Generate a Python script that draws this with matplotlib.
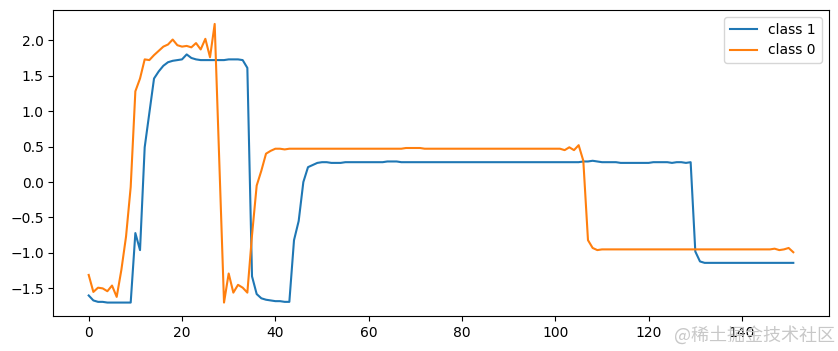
import matplotlib.pyplot as plt

# values, one per time step (0..151)
class_1 = [
    -1.60, -1.67, -1.69, -1.69, -1.70, -1.70, -1.70, -1.70, -1.70, -1.70,
    -0.72, -0.96, 0.49, 0.98, 1.46, 1.56, 1.64, 1.69, 1.71, 1.72,
    1.73, 1.80, 1.75, 1.73, 1.72, 1.72, 1.72, 1.72, 1.72, 1.72,
    1.73, 1.73, 1.73, 1.72, 1.61, -1.33, -1.58, -1.64, -1.66, -1.67,
    -1.68, -1.68, -1.69, -1.69, -0.82, -0.55, 0.00, 0.21, 0.24, 0.27,
    0.28, 0.28, 0.27, 0.27, 0.27, 0.28, 0.28, 0.28, 0.28, 0.28,
    0.28, 0.28, 0.28, 0.28, 0.29, 0.29, 0.29, 0.28, 0.28, 0.28,
    0.28, 0.28, 0.28, 0.28, 0.28, 0.28, 0.28, 0.28, 0.28, 0.28,
    0.28, 0.28, 0.28, 0.28, 0.28, 0.28, 0.28, 0.28, 0.28, 0.28,
    0.28, 0.28, 0.28, 0.28, 0.28, 0.28, 0.28, 0.28, 0.28, 0.28,
    0.28, 0.28, 0.28, 0.28, 0.28, 0.28, 0.29, 0.29, 0.30, 0.29,
    0.28, 0.28, 0.28, 0.28, 0.27, 0.27, 0.27, 0.27, 0.27, 0.27,
    0.27, 0.28, 0.28, 0.28, 0.28, 0.27, 0.28, 0.28, 0.27, 0.28,
    -0.98, -1.12, -1.14, -1.14, -1.14, -1.14, -1.14, -1.14, -1.14, -1.14,
    -1.14, -1.14, -1.14, -1.14, -1.14, -1.14, -1.14, -1.14, -1.14, -1.14,
    -1.14, -1.14,
]

class_0 = [
    -1.31, -1.55, -1.49, -1.50, -1.54, -1.46, -1.62, -1.24, -0.77, -0.07,
    1.28, 1.46, 1.73, 1.72, 1.79, 1.85, 1.91, 1.94, 2.01, 1.93,
    1.91, 1.92, 1.90, 1.96, 1.87, 2.02, 1.76, 2.23, 0.26, -1.70,
    -1.29, -1.56, -1.45, -1.49, -1.56, -0.75, -0.05, 0.16, 0.40, 0.44,
    0.47, 0.47, 0.46, 0.47, 0.47, 0.47, 0.47, 0.47, 0.47, 0.47,
    0.47, 0.47, 0.47, 0.47, 0.47, 0.47, 0.47, 0.47, 0.47, 0.47,
    0.47, 0.47, 0.47, 0.47, 0.47, 0.47, 0.47, 0.47, 0.48, 0.48,
    0.48, 0.48, 0.47, 0.47, 0.47, 0.47, 0.47, 0.47, 0.47, 0.47,
    0.47, 0.47, 0.47, 0.47, 0.47, 0.47, 0.47, 0.47, 0.47, 0.47,
    0.47, 0.47, 0.47, 0.47, 0.47, 0.47, 0.47, 0.47, 0.47, 0.47,
    0.47, 0.47, 0.45, 0.49, 0.45, 0.52, 0.30, -0.82, -0.93, -0.96,
    -0.95, -0.95, -0.95, -0.95, -0.95, -0.95, -0.95, -0.95, -0.95, -0.95,
    -0.95, -0.95, -0.95, -0.95, -0.95, -0.95, -0.95, -0.95, -0.95, -0.95,
    -0.95, -0.95, -0.95, -0.95, -0.95, -0.95, -0.95, -0.95, -0.95, -0.95,
    -0.95, -0.95, -0.95, -0.95, -0.95, -0.95, -0.95, -0.94, -0.96, -0.95,
    -0.93, -0.99,
]

fig = plt.figure(figsize=(8.38, 3.51), dpi=100)
ax = fig.add_subplot(111)
fig.subplots_adjust(left=0.0638, right=0.9887, top=0.9715, bottom=0.0983)

ax.plot(class_1, label="class 1")
ax.plot(class_0, label="class 0")
ax.legend(loc="upper right")

# site watermark in the bottom-right corner
fig.text(0.997, 0.045, "@稀土掘金技术社区", ha="right", va="center",
         fontsize=13, color="#c8c8c8",
         family=["Noto Sans CJK SC", "DejaVu Sans"])

fig.savefig("out.png", dpi=100)
